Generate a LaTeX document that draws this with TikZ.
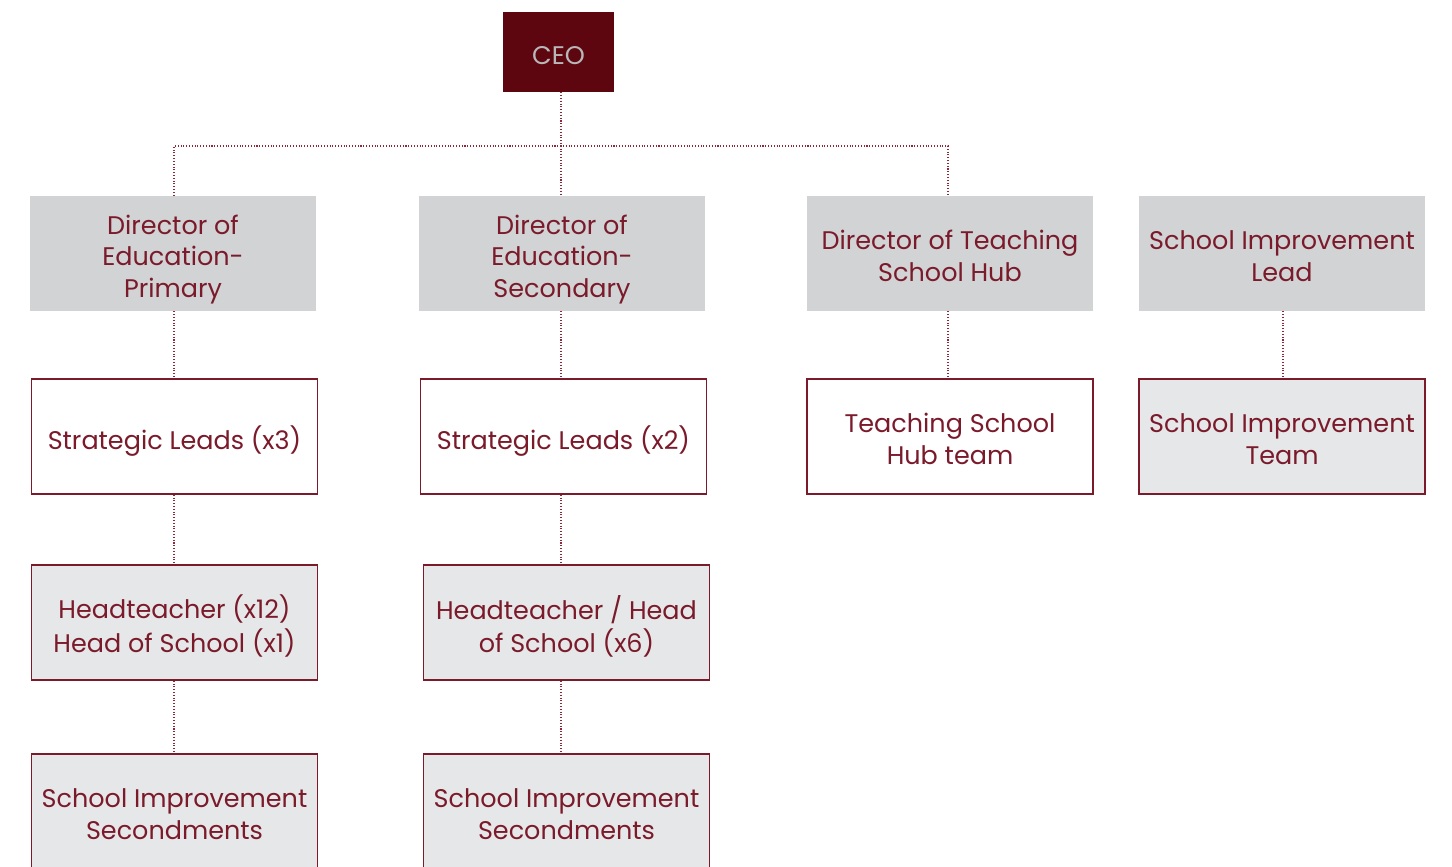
\documentclass[tikz,border=0pt]{standalone}
\usepackage{fontspec}
\setmainfont{Poppins}
\definecolor{ceored}{HTML}{5E0610}
\definecolor{txtred}{HTML}{7A1A2A}
\definecolor{linered}{HTML}{8A2A3A}
\definecolor{darkgray}{HTML}{D1D3D4}
\definecolor{lightgray}{HTML}{E6E7E8}
\definecolor{ceotxt}{HTML}{B8B8B8}
\newcommand\lowtext[1]{\raisebox{-3.4pt}[\height][\depth]{\begin{tabular}{@{}c@{}}#1\end{tabular}}}
\begin{document}
\begin{tikzpicture}[x=0.02cm,y=-0.02cm,
  base/.style={minimum width=5.72cm,minimum height=2.3cm,inner sep=0pt,align=center,
    text=txtred,font=\fontsize{14.5}{18.1}\selectfont},
  topbox/.style={base,fill=darkgray},
  whitebox/.style={base,draw=txtred,line width=0.8pt,fill=white},
  graybox/.style={base,draw=txtred,line width=0.8pt,fill=lightgray},
  conn/.style={draw=linered,densely dotted,line width=0.6pt}]
\useasboundingbox (0,0) rectangle (1452,866);
\clip (0,0) rectangle (1452,866);
\node[fill=ceored,minimum width=2.22cm,minimum height=1.6cm,inner sep=0pt,text=ceotxt,
  font=\fontsize{14.5}{18}\selectfont] (ceo) at (558.5,52) {\lowtext{CEO}};
\node[topbox] (dirA) at (173,253.5) {\lowtext{Director of\\Education-\\Primary}};
\node[topbox] (dirB) at (562,253.5) {\lowtext{Director of\\Education-\\Secondary}};
\node[topbox] (dirC) at (950,253.5) {\lowtext{Director of Teaching\\School Hub}};
\node[topbox] (dirD) at (1282,253.5) {\lowtext{School Improvement\\Lead}};
\node[whitebox] (slA) at (174.5,436.5) {\lowtext{Strategic Leads (x3)}};
\node[whitebox] (slB) at (563.5,436.5) {\lowtext{Strategic Leads (x2)}};
\node[whitebox] (tsh) at (950,436.5) {\lowtext{Teaching School\\Hub team}};
\node[graybox] (sit) at (1282,436.5) {\lowtext{School Improvement\\Team}};
\node[graybox] (htA) at (174.5,622.5) {\lowtext{Headteacher (x12)\\Head of School (x1)}};
\node[graybox] (htB) at (566.5,622.5) {\lowtext{Headteacher / Head\\of School (x6)}};
\node[graybox] (sisA) at (174.5,811.5) {\lowtext{School Improvement\\Secondments}};
\node[graybox] (sisB) at (566.5,811.5) {\lowtext{School Improvement\\Secondments}};
\coordinate (hub) at (561,146);
\draw[conn] (ceo.south -| hub) -- (hub |- dirB.north);
\draw[conn] (174,0 |- dirA.north) |- (hub) -| (948,0 |- dirC.north);
\draw[conn] (174,0 |- dirA.south) -- (174,0 |- slA.north);
\draw[conn] (hub |- dirB.south) -- (hub |- slB.north);
\draw[conn] (948,0 |- dirC.south) -- (948,0 |- tsh.north);
\draw[conn] (1283,0 |- dirD.south) -- (1283,0 |- sit.north);
\draw[conn] (174,0 |- slA.south) -- (174,0 |- htA.north);
\draw[conn] (hub |- slB.south) -- (hub |- htB.north);
\draw[conn] (174,0 |- htA.south) -- (174,0 |- sisA.north);
\draw[conn] (hub |- htB.south) -- (hub |- sisB.north);
\end{tikzpicture}
\end{document}
